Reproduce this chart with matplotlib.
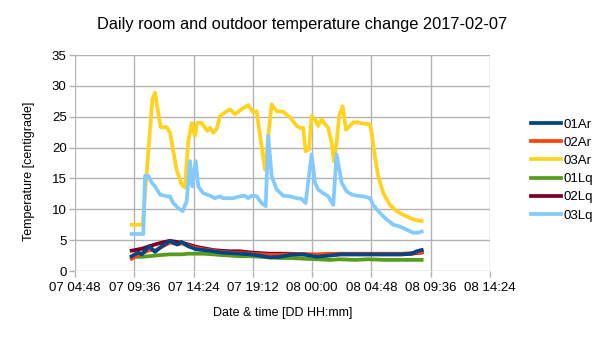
import matplotlib
matplotlib.use("Agg")
import matplotlib.pyplot as plt

# hours counted from 2017-02-07 00:00
tick_hours = [4.8, 9.6, 14.4, 19.2, 24.0, 28.8, 33.6, 38.4]
tick_labels = ["07 04:48", "07 09:36", "07 14:24", "07 19:12",
               "08 00:00", "08 04:48", "08 09:36", "08 14:24"]

# room 03 (Ar = room, Lq = outdoor side)
t_03ar = [9.39, 10.28, 11.06, 11.28, 11.62, 11.74, 12.22, 12.49, 12.76, 13.03,
          13.44, 13.70, 13.97, 14.25, 14.51, 14.70, 15.06, 15.51, 15.73, 16.00,
          16.27, 16.54, 16.94, 17.35, 17.75, 18.29, 18.83, 19.23, 19.51, 19.77,
          20.18, 20.45, 20.72, 21.13, 21.66, 22.20, 22.75, 23.01, 23.28, 23.47,
          23.74, 23.96, 24.23, 24.49, 24.77, 25.04, 25.30, 25.58, 25.76, 25.98,
          26.19, 26.47, 26.74, 27.06, 27.33, 27.73, 28.01, 28.68, 28.82, 29.08,
          29.35, 29.76, 30.30, 30.84, 31.38, 31.92, 32.46, 32.87]
v_03ar = [7.5, 7.5, 27.8, 28.9, 24.6, 23.3, 23.3, 22.5, 19.4, 16.4,
          14.0, 13.5, 21.0, 24.0, 21.9, 24.0, 24.0, 22.7, 23.2, 22.4,
          23.0, 25.1, 25.7, 26.2, 25.4, 26.2, 26.9, 25.7, 25.9, 22.1,
          16.4, 21.9, 27.0, 25.9, 25.8, 24.9, 23.5, 23.2, 23.2, 19.4,
          19.7, 25.1, 24.6, 23.5, 24.6, 23.8, 23.2, 20.8, 17.8, 20.8,
          25.1, 26.7, 22.9, 23.5, 24.1, 24.1, 23.9, 23.8, 22.4, 18.6,
          15.4, 12.6, 10.7, 9.7, 9.1, 8.6, 8.2, 8.1]

t_03lq = [9.39, 10.33, 10.47, 10.73, 11.01, 11.28, 11.68, 12.22, 12.49, 12.76,
          13.16, 13.52, 13.84, 14.11, 14.30, 14.57, 14.78, 15.19, 15.73, 16.13,
          16.54, 16.80, 17.61, 18.16, 18.56, 18.83, 19.10, 19.51, 19.91, 20.24,
          20.45, 20.72, 21.13, 21.66, 22.20, 22.75, 23.15, 23.47, 23.96, 24.23,
          24.49, 24.90, 25.30, 25.71, 25.98, 26.39, 26.79, 27.20, 27.60, 28.14,
          28.68, 28.95, 29.35, 29.89, 30.57, 31.11, 31.65, 32.18, 32.59, 32.87]
v_03lq = [6.0, 6.0, 15.4, 15.4, 14.3, 13.7, 12.4, 12.1, 12.1, 11.0,
          10.2, 9.7, 11.3, 17.8, 13.7, 17.8, 13.7, 12.6, 12.2, 11.8,
          12.1, 11.8, 11.8, 12.1, 12.2, 11.8, 12.2, 12.1, 11.0, 10.5,
          21.9, 15.4, 13.2, 12.2, 12.1, 11.8, 11.7, 11.0, 18.9, 14.3,
          13.2, 12.6, 12.1, 10.7, 18.9, 14.3, 12.9, 12.4, 12.2, 12.1,
          11.8, 10.7, 9.7, 8.6, 7.5, 7.2, 6.7, 6.2, 6.2, 6.4]

# rooms 01 and 02 share the same sampling times
t_low = [9.39, 9.66, 9.93, 10.20, 10.81, 11.28, 11.82, 12.49, 12.76, 13.08,
         13.44, 13.97, 14.65, 15.19, 15.99, 16.54, 17.35, 18.16, 18.97, 19.77,
         20.58, 21.39, 22.20, 23.28, 24.36, 25.44, 26.25, 27.47, 28.54, 29.89,
         31.25, 32.05, 32.46, 32.87]
v_01ar = [2.4, 2.7, 3.0, 2.7, 4.0, 3.1, 4.0, 4.9, 4.6, 4.3,
          4.7, 4.0, 3.5, 3.4, 3.2, 3.0, 2.9, 2.8, 2.7, 2.5,
          2.2, 2.3, 2.6, 2.7, 2.3, 2.5, 2.7, 2.7, 2.7, 2.7,
          2.7, 2.8, 3.2, 3.4]
v_02ar = [2.0, 2.3, 2.6, 2.8, 3.4, 3.3, 3.9, 4.6, 4.5, 4.3,
          4.5, 4.1, 3.7, 3.5, 3.3, 3.1, 3.0, 2.9, 2.8, 2.7,
          2.6, 2.6, 2.7, 2.7, 2.7, 2.8, 2.8, 2.8, 2.8, 2.8,
          2.8, 2.9, 3.0, 3.1]
v_01lq = [2.2, 2.3, 2.3, 2.3, 2.4, 2.5, 2.6, 2.7, 2.7, 2.7,
          2.7, 2.8, 2.8, 2.8, 2.7, 2.6, 2.5, 2.4, 2.4, 2.3,
          2.2, 2.1, 2.1, 2.0, 1.9, 1.8, 1.9, 1.8, 1.9, 1.8,
          1.8, 1.8, 1.8, 1.8]
v_02lq = [3.3, 3.4, 3.5, 3.6, 4.0, 4.3, 4.6, 4.9, 4.8, 4.7,
          4.6, 4.3, 3.9, 3.7, 3.4, 3.3, 3.2, 3.2, 3.0, 2.9,
          2.8, 2.8, 2.8, 2.7, 2.6, 2.6, 2.7, 2.7, 2.7, 2.7,
          2.7, 2.8, 2.9, 3.0]

plt.rcParams['font.family'] = ['Liberation Sans', 'DejaVu Sans']

fig = plt.figure(figsize=(6.05, 3.4), dpi=100)
ax = fig.add_axes([75/605, 1-271/340, 415/605, 216/340])

lw = 2.7
l1, = ax.plot(t_low, v_01ar, color='#004586', lw=lw, zorder=6)
l2, = ax.plot(t_low, v_02ar, color='#ff420e', lw=lw, zorder=4)
l3, = ax.plot(t_03ar, v_03ar, color='#ffd320', lw=lw, zorder=3)
l4, = ax.plot(t_low, v_01lq, color='#579d1c', lw=lw, zorder=3)
l5, = ax.plot(t_low, v_02lq, color='#7e0021', lw=lw, zorder=3)
l6, = ax.plot(t_03lq, v_03lq, color='#83caff', lw=lw, zorder=3)

ax.set_xlim(tick_hours[0], tick_hours[-1])
ax.set_ylim(0, 35)
ax.set_xticks(tick_hours)
ax.set_xticklabels(tick_labels)
ax.set_yticks(range(0, 36, 5))
ax.grid(True, color='#b3b3b3', lw=1)
ax.set_axisbelow(True)
for s in ax.spines.values():
    s.set_visible(False)
ax.tick_params(length=4, width=1, color='#b3b3b3', labelsize=9.5, pad=2)
ax.tick_params(axis='x', pad=4)

fig.text(0.5, 1-25/340, "Daily room and outdoor temperature change 2017-02-07",
         ha='center', va='center', fontsize=11.8)
fig.text(282.5/605, 1-313/340, "Date & time [DD HH:mm]",
         ha='center', va='center', fontsize=9)
fig.text(29/605, 1-171/340, "Temperature [centigrade]", rotation=90,
         ha='center', va='center', fontsize=9)

fig.legend([l1, l2, l3, l4, l5, l6],
           ["01Ar", "02Ar", "03Ar", "01Lq", "02Lq", "03Lq"],
           loc='center left', bbox_to_anchor=(531/605, 0.5), frameon=False,
           fontsize=9.5, handlelength=2.3, handletextpad=0.2,
           labelspacing=0.45, borderpad=0, borderaxespad=0)

fig.savefig("out.png", dpi=100)
